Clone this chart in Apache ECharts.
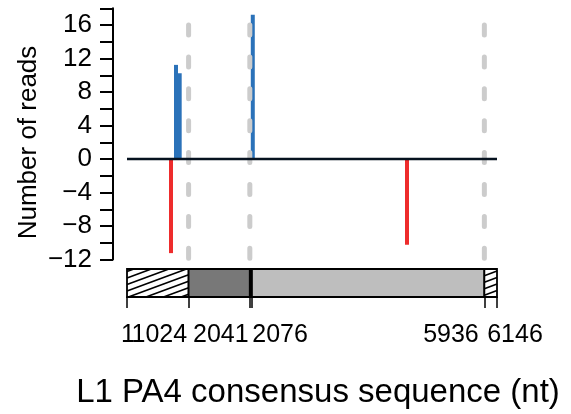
<!DOCTYPE html>
<html>
<head>
<meta charset="utf-8">
<script src="https://cdn.jsdelivr.net/npm/echarts@6/dist/echarts.min.js"></script>
<style>
html,body{margin:0;padding:0;background:#fff;}
#chart{width:571px;height:414px;}
</style>
</head>
<body>
<div id="chart"></div>
<script>
// ---- data ----
const plusPositions = [815, 876, 2090];
const plusReads = [11, 10, 17];
const minusPositions = [732, 4651];
const minusReads = [-11, -10];
const dashedPositions = [1024, 2041, 5936];
const boundaryTicks = [1, 1024, 2041, 2076, 5936, 6146];
const boundaryLabels = ['1', '1024', '2041', '2076', '5936', '6146'];
const segmentKinds = ['utr', 'orf1', 'inter', 'orf2', 'utr'];
const yTitle = 'Number of reads';
const xTitle = 'L1 PA4 consensus sequence (nt)';

// ---- styles ----
const FONT = '"Liberation Sans", Arial, sans-serif';
const segStyle = {
  utr: { fill: '#ffffff', hatch: true },
  orf1: { fill: '#787878' },
  inter: { fill: '#000000' },
  orf2: { fill: '#bebebe' }
};
// label centre offsets (px) from their tick
const labelShift = [1, -29.3, -29, 28.1, -33.4, 18];

const chart = echarts.init(document.getElementById('chart'), null, { renderer: 'canvas' });

const xMin = boundaryTicks[0], xMax = boundaryTicks[boundaryTicks.length - 1];
const BAR_W = 4;

function barRender(color) {
  return function (params, api) {
    const v = api.value(1);
    const p0 = api.coord([api.value(0), 0]);
    const p1 = api.coord([api.value(0), v]);
    const ext = v > 0 ? -BAR_W / 2 : BAR_W / 2;
    const yEnd = p1[1] + ext;
    return {
      type: 'rect',
      shape: { x: p0[0] - BAR_W / 2, y: Math.min(p0[1], yEnd), width: BAR_W, height: Math.abs(yEnd - p0[1]) },
      style: { fill: color }
    };
  };
}

function hatchLines(x1, y1, x2, y2, slope, spacing) {
  const out = [];
  const cMin = y1 + slope * x1, cMax = y2 + slope * x2;
  for (let c = Math.floor(cMin / spacing) * spacing; c <= cMax + spacing; c += spacing) {
    const a = Math.max(x1, (c - y2) / slope);
    const b = Math.min(x2, (c - y1) / slope);
    if (a < b) {
      out.push({
        type: 'line',
        shape: { x1: a, y1: c - slope * a, x2: b, y2: c - slope * b },
        style: { stroke: '#000', lineWidth: 1.6 }
      });
    }
  }
  return out;
}

const segData = segmentKinds.map((k, i) => [boundaryTicks[i], boundaryTicks[i + 1], i]);

const option = {
  animation: false,
  backgroundColor: '#fff',
  grid: [
    { left: 127, right: 74, top: 8.25, height: 251.25, containLabel: false, outerBoundsMode: 'none' },
    { left: 127, right: 74, top: 269, height: 28, containLabel: false, outerBoundsMode: 'none' }
  ],
  xAxis: [
    { type: 'value', gridIndex: 0, min: xMin, max: xMax, show: false },
    {
      type: 'value', gridIndex: 1, min: xMin, max: xMax, position: 'bottom', offset: 10,
      axisLine: { show: true, lineStyle: { color: '#000', width: 1.5 } },
      axisTick: { show: true, customValues: boundaryTicks, length: 11, lineStyle: { color: '#000', width: 1.5 } },
      axisLabel: { show: false },
      splitLine: { show: false }
    }
  ],
  yAxis: [
    {
      type: 'value', gridIndex: 0, min: -12, max: 18, interval: 2, position: 'left', offset: 14,
      axisLine: { show: true, lineStyle: { color: '#000', width: 2 } },
      axisTick: { show: true, length: 13, lineStyle: { color: '#000', width: 2 } },
      axisLabel: {
        margin: 21, fontSize: 26, fontFamily: FONT, color: '#000',
        formatter: v => (v % 4 === 0 ? (v < 0 ? '\u2212' + Math.abs(v) : String(v)) : '')
      },
      splitLine: { show: false }
    },
    { type: 'value', gridIndex: 1, min: 0, max: 1, show: false }
  ],
  series: [
    {
      type: 'custom', xAxisIndex: 0, yAxisIndex: 0, z: 2, clip: false,
      renderItem: barRender('#2b72b9'),
      data: plusPositions.map((p, i) => [p, plusReads[i]])
    },
    {
      type: 'custom', xAxisIndex: 0, yAxisIndex: 0, z: 2, clip: false,
      renderItem: barRender('#ee2c2c'),
      data: minusPositions.map((p, i) => [p, minusReads[i]])
    },
    {
      type: 'custom', xAxisIndex: 0, yAxisIndex: 0, z: 3, clip: false,
      renderItem: function (params, api) {
        const p0 = api.coord([api.value(0), 16]);
        const p1 = api.coord([api.value(0), -12]);
        return {
          type: 'line',
          shape: { x1: p0[0], y1: p0[1], x2: p1[0], y2: p1[1] },
          style: { stroke: '#cccccc', lineWidth: 5, lineCap: 'round', lineDash: [10, 21.9] }
        };
      },
      data: dashedPositions.map(p => [p])
    },
    {
      type: 'line', xAxisIndex: 0, yAxisIndex: 0, z: 4, symbol: 'none', silent: true,
      lineStyle: { color: '#06121f', width: 2.4 },
      data: [[xMin, 0], [xMax, 0]]
    },
    {
      type: 'custom', xAxisIndex: 1, yAxisIndex: 1, z: 2, clip: false,
      renderItem: function (params, api) {
        const tl = api.coord([api.value(0), 1]);
        const br = api.coord([api.value(1), 0]);
        const kind = segmentKinds[api.value(2)];
        const st = segStyle[kind];
        const children = [{
          type: 'rect',
          shape: { x: tl[0], y: tl[1], width: br[0] - tl[0], height: br[1] - tl[1] },
          style: { fill: st.fill, stroke: null }
        }];
        if (st.hatch) {
          hatchLines(tl[0], tl[1], br[0], br[1], 0.37, 6.5).forEach(l => children.push(l));
        }
        children.push({
          type: 'rect',
          shape: { x: tl[0], y: tl[1], width: br[0] - tl[0], height: br[1] - tl[1] },
          style: { fill: null, stroke: '#000', lineWidth: 1.8 }
        });
        return { type: 'group', children: children };
      },
      data: segData
    }
  ]
};
chart.setOption(option);

// text placed through the axis scales
const graphics = boundaryTicks.map((v, i) => {
  const px = chart.convertToPixel({ xAxisIndex: 1 }, v);
  return {
    type: 'text', x: px + labelShift[i], y: 335, silent: true,
    style: { text: boundaryLabels[i], font: '25px ' + FONT, fill: '#000', textAlign: 'center', textVerticalAlign: 'middle' }
  };
});
const xc = (chart.convertToPixel({ xAxisIndex: 1 }, xMin) + chart.convertToPixel({ xAxisIndex: 1 }, xMax)) / 2;
graphics.push({
  type: 'text', x: xc + 6, y: 392.5, silent: true,
  style: { text: xTitle, font: '33px ' + FONT, fill: '#000', textAlign: 'center', textVerticalAlign: 'middle' }
});
graphics.push({
  type: 'text', x: 28.5, y: 142.5, rotation: Math.PI / 2, silent: true,
  style: { text: yTitle, font: '26px ' + FONT, fill: '#000', textAlign: 'center', textVerticalAlign: 'middle' }
});
chart.setOption({ graphic: graphics });
</script>
</body>
</html>
